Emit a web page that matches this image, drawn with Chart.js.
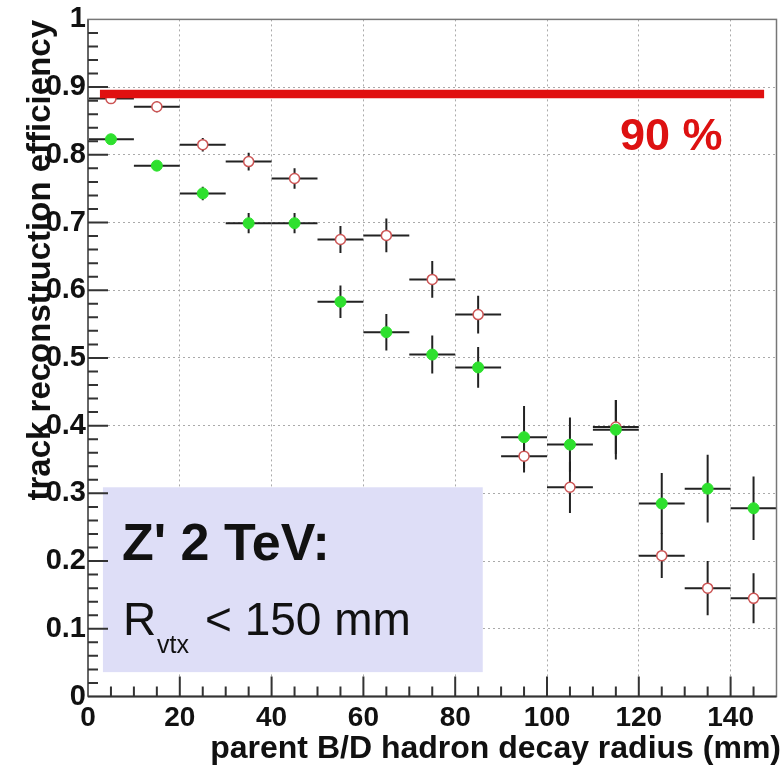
<!DOCTYPE html>
<html>
<head>
<meta charset="utf-8">
<script src="https://cdn.jsdelivr.net/npm/chart.js@4/dist/chart.umd.min.js"></script>
<style>
body { margin: 0; background: #fff; }
canvas { display: block; }
</style>
</head>
<body>
<canvas id="eff-graph" width="783" height="766"></canvas>
<script>
// bin centres (mm) and half widths
var radius = [5, 15, 25, 35, 45, 55, 65, 75, 85, 95, 105, 115, 125, 135, 145];
var halfWidth = [5, 5, 5, 5, 5, 5, 5, 5, 5, 5, 5, 5, 5, 5, 5];

// full green markers
var effFull = [0.823, 0.784, 0.743, 0.699, 0.699, 0.583, 0.538, 0.505, 0.486, 0.383, 0.372, 0.394, 0.285, 0.307, 0.278];
var errFull = [0.005, 0.006, 0.010, 0.015, 0.015, 0.024, 0.027, 0.028, 0.030, 0.046, 0.040, 0.044, 0.045, 0.050, 0.047];

// open red markers
var effOpen = [0.883, 0.871, 0.815, 0.790, 0.765, 0.675, 0.681, 0.616, 0.564, 0.355, 0.309, 0.398, 0.208, 0.160, 0.145];
var errOpen = [0.004, 0.008, 0.010, 0.013, 0.015, 0.020, 0.025, 0.027, 0.028, 0.024, 0.038, 0.040, 0.033, 0.040, 0.037];

// the 90 % reference line
var refLineX = [2.6, 147.3];
var refLineY = [0.89, 0.89];

var xTickLabels = ['0', '20', '40', '60', '80', '100', '120', '140'];
var yTickLabels = ['0', '0.1', '0.2', '0.3', '0.4', '0.5', '0.6', '0.7', '0.8', '0.9', '1'];

var FONT = '"Liberation Sans", Arial, Helvetica, sans-serif';

function toPoints(xs, ys)
{
	var pts = [];
	for (var i = 0; i < xs.length; i++) {
		pts.push({x: xs[i], y: ys[i]});
	}
	return pts;
}

var rootStyle = {
	id: 'rootStyle',
	beforeDatasetsDraw: function(chart) {
		var ctx = chart.ctx;
		var xs = chart.scales.x;
		var ys = chart.scales.y;

		// info box
		var bx0 = xs.getPixelForValue(3.25), bx1 = xs.getPixelForValue(86);
		var by0 = ys.getPixelForValue(0.309), by1 = ys.getPixelForValue(0.036);
		ctx.save();
		ctx.fillStyle = '#dedef7';
		ctx.fillRect(bx0, by0, bx1 - bx0, by1 - by0);
		ctx.restore();

		// error bars
		var area = chart.chartArea;
		ctx.save();
		ctx.beginPath();
		ctx.rect(area.left, area.top, area.right - area.left, area.bottom - area.top);
		ctx.clip();
		ctx.strokeStyle = '#222';
		ctx.lineWidth = 2;
		function bar(x, y, ex, ey) {
			var px = xs.getPixelForValue(x), py = ys.getPixelForValue(y);
			ctx.beginPath();
			ctx.moveTo(xs.getPixelForValue(x - ex), py);
			ctx.lineTo(xs.getPixelForValue(x + ex), py);
			ctx.moveTo(px, ys.getPixelForValue(y - ey));
			ctx.lineTo(px, ys.getPixelForValue(y + ey));
			ctx.stroke();
		}
		for (var i = 0; i < radius.length; i++) {
			bar(radius[i], effOpen[i], halfWidth[i], errOpen[i]);
			bar(radius[i], effFull[i], halfWidth[i], errFull[i]);
		}
		ctx.restore();
	},
	afterDraw: function(chart) {
		var ctx = chart.ctx;
		var xs = chart.scales.x;
		var ys = chart.scales.y;
		var a = chart.chartArea;
		var v;

		ctx.save();
		// frame
		ctx.strokeStyle = '#777';
		ctx.lineWidth = 1.5;
		ctx.strokeRect(a.left, a.top, a.right - a.left, a.bottom - a.top);
		ctx.strokeStyle = '#666';
		ctx.lineWidth = 2;
		ctx.beginPath();
		ctx.moveTo(a.left, a.top);
		ctx.lineTo(a.left, a.bottom);
		ctx.stroke();
		ctx.strokeStyle = '#333';
		ctx.beginPath();
		ctx.moveTo(a.left, a.bottom);
		ctx.lineTo(a.right, a.bottom);
		ctx.stroke();

		// inward ticks
		ctx.lineWidth = 2;
		ctx.strokeStyle = '#333';
		ctx.beginPath();
		for (v = 5; v < 150; v += 5) {
			var px = xs.getPixelForValue(v);
			var len = (v % 20 === 0) ? 20 : 10;
			ctx.moveTo(px, a.bottom);
			ctx.lineTo(px, a.bottom - len);
		}
		for (var k = 1; k < 50; k++) {
			var py = ys.getPixelForValue(k * 0.02);
			var ylen = (k % 5 === 0) ? 20 : 10;
			ctx.moveTo(a.left, py);
			ctx.lineTo(a.left + ylen, py);
		}
		ctx.stroke();

		// axis titles
		ctx.fillStyle = '#111';
		ctx.font = 'bold 32px ' + FONT;
		ctx.textAlign = 'right';
		ctx.textBaseline = 'alphabetic';
		ctx.fillText('parent B/D hadron decay radius (mm)', 781, 758);

		ctx.save();
		ctx.translate(50, 20);
		ctx.rotate(-Math.PI / 2);
		ctx.textAlign = 'right';
		ctx.font = 'bold 33px ' + FONT;
		ctx.fillText('track reconstruction efficiency', 0, 0);
		ctx.restore();

		// 90 % label
		ctx.fillStyle = '#dd1111';
		ctx.font = 'bold 45px ' + FONT;
		ctx.textAlign = 'left';
		ctx.fillText('90 %', 620, 150);

		// box text
		ctx.fillStyle = '#111';
		ctx.font = 'bold 52px ' + FONT;
		ctx.fillText("Z' 2 TeV:", 122, 560);
		ctx.font = '46px ' + FONT;
		ctx.fillText('R', 123, 635);
		ctx.fillText('< 150 mm', 205, 635);
		ctx.font = '25px ' + FONT;
		ctx.fillText('vtx', 157, 653);
		ctx.restore();
	}
};

var ctx = document.getElementById('eff-graph').getContext('2d');

var effChart = new Chart(ctx, {
	type: 'scatter',
	data: {
		datasets: [{
			type: 'line',
			data: toPoints(refLineX, refLineY),
			borderColor: '#e01010',
			borderWidth: 8.5,
			borderCapStyle: 'butt',
			pointRadius: 0,
			fill: false
		}, {
			data: toPoints(radius, effFull),
			backgroundColor: '#2ee02e',
			borderColor: '#2ee02e',
			borderWidth: 1,
			pointRadius: 5.5
		}, {
			data: toPoints(radius, effOpen),
			backgroundColor: '#ffffff',
			borderColor: '#cc5555',
			borderWidth: 1.5,
			pointRadius: 5
		}]
	},
	options: {
		responsive: false,
		devicePixelRatio: 1,
		animation: false,
		layout: { padding: { left: 0, right: 2, top: 19, bottom: 0 } },
		plugins: {
			legend: { display: false },
			tooltip: { enabled: false }
		},
		scales: {
			x: {
				type: 'linear',
				min: 0,
				max: 150,
				afterFit: function(scale) { scale.height = 69.5; },
				grid: { color: '#aaa', lineWidth: 1, drawTicks: false },
				border: { display: false, dash: [2, 3] },
				ticks: {
					stepSize: 20,
					includeBounds: false,
					autoSkip: false,
					maxRotation: 0,
					padding: 5,
					color: '#111',
					font: { family: FONT, size: 28, weight: 'bold' },
					callback: function(value, index) { return xTickLabels[index]; }
				}
			},
			y: {
				type: 'linear',
				min: 0,
				max: 1,
				afterFit: function(scale) { scale.width = 88; },
				grid: { color: '#aaa', lineWidth: 1, drawTicks: false },
				border: { display: false, dash: [2, 3] },
				ticks: {
					stepSize: 0.1,
					autoSkip: false,
					padding: 2,
					color: '#111',
					font: { family: FONT, size: 29, weight: 'bold' },
					callback: function(value, index) { return yTickLabels[index]; }
				}
			}
		}
	},
	plugins: [rootStyle]
});
</script>
</body>
</html>
